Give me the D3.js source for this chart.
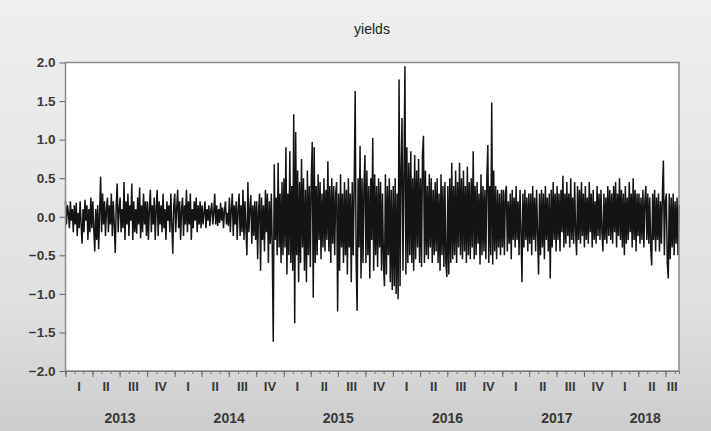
<!DOCTYPE html>
<html>
<head>
<meta charset="utf-8">
<script src="https://cdn.jsdelivr.net/npm/d3@7"></script>
<style>
  html, body { margin: 0; padding: 0; }
  body { width: 711px; height: 431px; overflow: hidden; }
  text { font-family: "Liberation Sans", Arial, sans-serif; }
</style>
</head>
<body>
<script>
// chart size and plot margins
var W = 711, H = 431;
var margin = {top: 62.5, right: 32, bottom: 60, left: 65.5}
  , width = W - margin.left - margin.right
  , height = H - margin.top - margin.bottom;

// sample range (daily data)
var startDate = new Date(2013, 0, 1);
var endDate = new Date(2018, 7, 15);

var yTicks = [2.0, 1.5, 1.0, 0.5, 0.0, -0.5, -1.0, -1.5, -2.0];
var quarterNames = ["I", "II", "III", "IV"];
var years = [2013, 2014, 2015, 2016, 2017, 2018];

// yields, one row per quarter
var yields = [
  0.2,-0.1,0.15,0.05,-0.15,0.2,-0.05,0.1,-0.2,0.15,-0.1,0.18,-0.25,0.05,-0.15,0.2,-0.1,-0.35,0.1,-0.2,0.22,-0.05,0.15,-0.3,0.1,-0.2,0.25,-0.15,   // 2013 I
  0.2,-0.15,-0.45,0.1,-0.3,0.15,-0.42,0.05,0.52,-0.2,0.3,-0.1,0.2,-0.25,0.1,0.25,-0.2,0.15,-0.1,0.3,-0.25,0.2,-0.1,-0.47,0.15,0.43,-0.2,0.1,     // 2013 II
  0.25,-0.2,0.1,-0.15,0.45,-0.3,0.2,-0.1,0.3,-0.25,0.15,-0.05,0.43,-0.3,0.2,-0.2,0.1,-0.22,0.25,-0.1,0.38,-0.28,0.15,-0.2,0.3,-0.1,0.2,-0.25,    // 2013 III
  0.2,-0.3,0.1,0.35,-0.2,0.15,-0.1,0.25,-0.3,0.1,0.35,-0.25,0.2,-0.1,0.15,-0.2,0.3,-0.15,0.1,-0.3,0.2,-0.05,0.15,-0.2,0.3,-0.1,-0.48,0.15,      // 2013 IV
  0.3,-0.2,0.1,0.35,-0.15,0.2,-0.3,0.1,0.25,-0.25,0.15,-0.1,0.35,-0.2,0.2,-0.1,0.3,-0.3,0.1,-0.15,0.2,-0.05,0.25,-0.2,0.15,-0.1,0.2,-0.15,      // 2014 I
  0.15,-0.1,0.05,0.2,-0.15,0.1,-0.05,0.15,-0.12,0.08,0.18,-0.1,0.05,0.3,-0.1,0.15,-0.12,0.1,-0.08,0.18,-0.05,0.12,-0.15,0.08,0.2,-0.1,0.05,-0.12, // 2014 II
  0.25,-0.2,0.1,0.3,-0.25,0.15,-0.1,0.2,-0.3,0.1,0.3,-0.25,0.15,-0.2,0.35,-0.3,0.2,-0.15,-0.5,0.45,-0.2,0.1,0.28,-0.35,0.15,-0.25,0.2,-0.3,     // 2014 III
  0.2,-0.55,0.1,0.3,-0.7,0.25,-0.3,0.15,-0.45,0.35,-0.2,0.3,-0.6,0.2,-0.35,0.3,-0.4,-1.62,0.68,-0.3,0.25,-0.5,0.7,-0.4,0.3,-0.6,0.45,-0.5,      // 2014 IV
  0.5,-0.4,0.9,-0.75,0.3,-0.5,0.85,-0.6,0.4,-0.7,1.33,-1.38,1.1,-0.5,0.6,-0.85,0.45,-0.6,0.75,-0.4,0.5,-0.7,0.35,-0.85,0.6,-0.5,0.4,-0.65,      // 2015 I
  0.5,0.97,-1.05,0.9,-0.6,0.4,-0.5,0.55,-0.3,0.45,-0.55,0.3,-0.4,0.5,-0.45,0.35,-0.3,0.72,-0.45,0.4,-0.6,0.5,-0.35,0.4,-0.5,0.3,0.45,-1.23,     // 2015 II
  0.3,-0.7,0.55,-0.4,0.3,-0.6,0.45,-0.5,0.35,-0.75,0.5,-0.4,0.3,-0.85,0.45,-0.5,0.4,1.63,-0.6,-1.22,0.5,-0.4,0.92,-0.8,0.5,-0.6,0.4,0.8,       // 2015 III
  -0.6,0.6,-0.5,0.4,-0.8,0.5,-0.3,1.02,-0.7,0.55,-0.5,0.4,-0.65,0.5,-0.4,0.45,-0.7,0.3,-0.6,-0.9,0.55,-0.75,0.4,-0.5,0.5,-0.85,0.35,-0.95,     // 2015 IV
  0.4,-0.9,0.5,-1.0,0.3,-1.07,1.78,-0.9,0.6,1.28,-0.7,0.5,1.95,-0.75,0.9,-0.6,0.7,-0.5,0.85,-0.6,0.5,-0.7,0.8,-0.55,0.6,-0.4,0.75,-0.6,        // 2016 I
  0.5,-0.65,0.8,1.05,-0.6,0.6,-0.5,0.4,-0.55,0.55,-0.4,0.5,-0.6,0.35,-0.5,0.45,-0.45,0.5,-0.6,0.3,-0.7,0.55,-0.5,0.4,-0.65,0.45,-0.6,-0.78,    // 2016 II
  0.4,-0.75,0.5,-0.6,0.7,-0.55,0.4,-0.5,0.6,-0.6,0.45,-0.4,0.7,-0.5,0.5,-0.55,0.6,-0.45,0.4,-0.6,0.65,-0.5,0.45,-0.55,0.5,-0.4,0.85,-0.55,    // 2016 III
  0.4,-0.5,0.45,-0.35,0.3,-0.62,0.55,-0.5,0.4,-0.45,0.35,-0.55,0.5,0.93,-0.6,0.4,-0.5,1.48,-0.62,0.6,-0.45,0.4,-0.55,0.35,-0.4,0.3,-0.5,0.35,   // 2016 IV
  -0.4,0.35,-0.5,0.3,0.4,-0.45,0.2,-0.35,0.3,-0.55,0.35,-0.3,0.25,-0.4,0.4,-0.3,0.2,-0.5,0.35,-0.2,-0.85,0.3,-0.4,0.35,-0.3,0.25,-0.45,0.3,    // 2017 I
  -0.35,0.3,-0.5,0.4,-0.3,0.25,-0.45,0.35,-0.2,-0.75,0.3,-0.5,0.35,-0.4,0.3,-0.55,0.4,-0.3,0.25,-0.45,0.3,-0.8,0.35,-0.4,0.45,-0.3,0.3,-0.45,  // 2017 II
  0.4,-0.3,0.3,-0.45,0.35,-0.2,0.53,-0.4,0.3,-0.35,0.45,-0.25,0.3,-0.4,0.5,-0.3,0.25,-0.35,0.45,-0.2,-0.5,0.4,-0.3,0.35,-0.35,0.45,-0.25,0.3,  // 2017 III
  -0.4,0.4,-0.3,0.25,-0.35,0.45,-0.2,0.3,-0.4,0.35,-0.3,0.2,-0.35,0.4,-0.25,0.3,-0.3,0.35,-0.2,-0.45,0.3,-0.3,0.25,-0.35,0.4,-0.25,0.35,-0.3,  // 2017 IV
  0.3,-0.35,0.4,-0.2,0.45,-0.4,0.3,-0.25,0.5,-0.3,0.35,-0.4,0.3,-0.5,0.4,-0.35,0.25,-0.3,0.45,-0.2,0.3,-0.4,0.5,-0.3,0.35,-0.45,0.3,-0.25,    // 2018 I
  0.3,-0.35,0.25,-0.3,0.35,-0.4,0.2,0.4,-0.3,0.3,-0.35,0.25,-0.4,-0.63,0.3,-0.3,0.35,-0.45,0.25,-0.3,0.3,-0.45,0.2,-0.35,0.3,0.73,-0.5,0.2,    // 2018 II
  0.3,-0.6,-0.8,0.3,-0.55,0.25,-0.4,0.3,-0.5,0.2,-0.35,0.25,-0.5,0.15                                                                       // 2018 III
];

var svg = d3.select("body").append("svg")
    .attr("width", W)
    .attr("height", H);

// grey window background
var grad = svg.append("defs").append("linearGradient")
    .attr("id", "bg").attr("x1", 0).attr("y1", 0).attr("x2", 0).attr("y2", 1);
grad.append("stop").attr("offset", "0%").attr("stop-color", "#efefef");
grad.append("stop").attr("offset", "70%").attr("stop-color", "#e0e0e0");
grad.append("stop").attr("offset", "100%").attr("stop-color", "#cdcdcd");
svg.append("rect").attr("width", W).attr("height", H).attr("fill", "url(#bg)");

// title
svg.append("text")
    .attr("x", 372).attr("y", 34)
    .attr("text-anchor", "middle")
    .attr("font-size", "14px")
    .attr("fill", "#222")
    .text("yields");

var g = svg.append("g")
    .attr("transform", "translate(" + margin.left + "," + margin.top + ")");

g.append("rect")
    .attr("width", width).attr("height", height)
    .attr("fill", "#fff");

// scales
var x = d3.scaleTime().domain([startDate, endDate]).range([0, width]);
var y = d3.scaleLinear().domain([-2, 2]).range([height, 0]);

// dates spread evenly over the sample
var step = (endDate - startDate) / (yields.length - 1);
var data = yields.map(function(v, i){
  return {date: new Date(+startDate + i * step), value: v};
});

var line = d3.line()
    .x(function(d){ return x(d.date); })
    .y(function(d){ return y(d.value); });

g.append("path")
    .datum(data)
    .attr("fill", "none")
    .attr("stroke", "#141414")
    .attr("stroke-width", 1.5)
    .attr("d", line);

// frame
g.append("rect")
    .attr("width", width).attr("height", height)
    .attr("fill", "none")
    .attr("stroke", "#8a8a8a")
    .attr("stroke-width", 1.5);

// y axis
var yAxis = g.append("g")
    .call(d3.axisLeft(y).tickValues(yTicks).tickFormat(d3.format(".1f")).tickSize(6).tickPadding(4));
yAxis.select(".domain").remove();
yAxis.selectAll("line").attr("stroke", "#666");
yAxis.selectAll("text")
    .attr("font-size", "13.5px")
    .attr("font-weight", "bold")
    .attr("fill", "#3a3a3a")
    .style("font-family", "'Liberation Sans', Arial, sans-serif");

// x axis: month and quarter ticks
var months = d3.timeMonth.range(d3.timeMonth.ceil(startDate), endDate);
var quarters = months.filter(function(d){ return d.getMonth() % 3 === 0; });

var xMinor = g.append("g")
    .attr("transform", "translate(0," + height + ")")
    .call(d3.axisBottom(x).tickValues(months).tickSize(3).tickFormat(""));
xMinor.select(".domain").attr("stroke", "#777");
xMinor.selectAll("line").attr("stroke", "#777");

var xMajor = g.append("g")
    .attr("transform", "translate(0," + height + ")")
    .call(d3.axisBottom(x).tickValues(quarters).tickSize(6).tickFormat(""));
xMajor.select(".domain").remove();
xMajor.selectAll("line").attr("stroke", "#666");

// quarter labels centred in each (clipped) quarter
var qLabels = quarters.map(function(d){
  var e = d3.timeMonth.offset(d, 3);
  if (e > endDate) e = endDate;
  return {x: (x(d) + x(e)) / 2, name: quarterNames[Math.floor(d.getMonth() / 3)]};
});
g.selectAll(".qlab")
    .data(qLabels)
    .enter().append("text")
    .attr("class", "qlab")
    .attr("x", function(d){ return d.x; })
    .attr("y", height + 20)
    .attr("text-anchor", "middle")
    .attr("font-size", "13px")
    .attr("font-weight", "bold")
    .attr("fill", "#3a3a3a")
    .text(function(d){ return d.name; });

// year labels
g.selectAll(".ylab")
    .data(years)
    .enter().append("text")
    .attr("class", "ylab")
    .attr("x", function(d){
      var s = new Date(d, 0, 1), e = new Date(d + 1, 0, 1);
      if (e > endDate) e = endDate;
      return (x(s) + x(e)) / 2;
    })
    .attr("y", height + 52)
    .attr("text-anchor", "middle")
    .attr("font-size", "14px")
    .attr("font-weight", "bold")
    .attr("fill", "#3a3a3a")
    .text(function(d){ return d; });
</script>
</body>
</html>
